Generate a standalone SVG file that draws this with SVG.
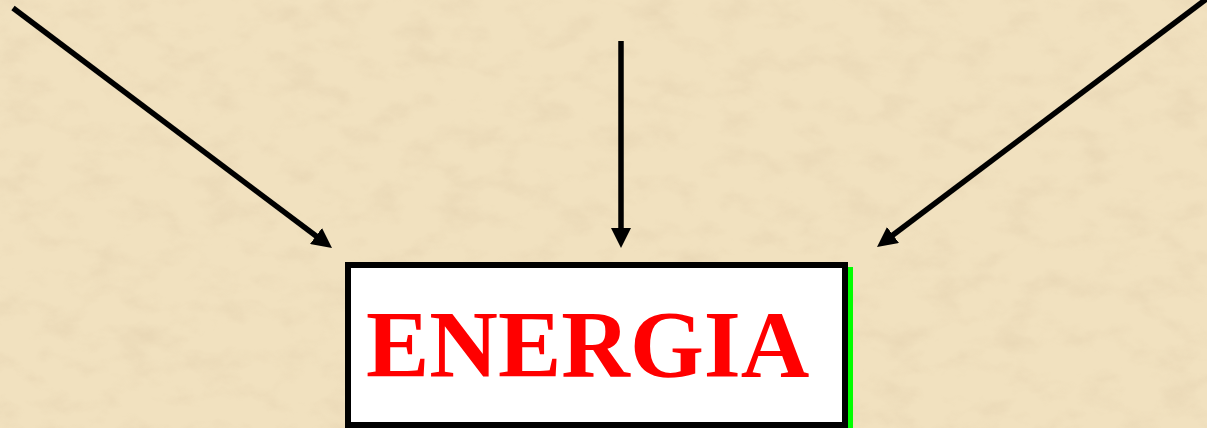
<svg xmlns="http://www.w3.org/2000/svg" width="1207" height="428" viewBox="0 0 1207 428">
  <style>
    .arrow { stroke: #000; stroke-width: 5.5; fill: none; marker-end: url(#head); }
    .label { font-family: "Liberation Serif", "Times New Roman", serif; font-weight: bold; font-size: 95px; fill: #FF0000; }
  </style>
  <defs>
    <marker id="head" markerUnits="userSpaceOnUse" markerWidth="20" markerHeight="20" viewBox="0 0 20 20" refX="8" refY="10" orient="auto">
      <path d="M0,0 L20,10 L0,20 z" fill="#000"/>
    </marker>
    <filter id="parch" x="0" y="0" width="100%" height="100%">
      <feTurbulence type="fractalNoise" baseFrequency="0.025 0.04" numOctaves="4" seed="7" result="n"/>
      <feColorMatrix in="n" type="matrix" values="0 0 0 0 0.74  0 0 0 0 0.6  0 0 0 0 0.4  1.8 0 0 0 -0.85"/>
    </filter>
  </defs>
  <g id="background">
    <rect x="0" y="0" width="1207" height="428" fill="#F1E1BF"/>
    <rect x="0" y="0" width="1207" height="428" filter="url(#parch)" opacity="0.5"/>
  </g>
  <g id="connectors">
    <line class="arrow" x1="13" y1="8" x2="322.4" y2="240.8"/>
    <line class="arrow" x1="621" y1="41" x2="621" y2="236"/>
    <line class="arrow" x1="1207" y1="-1.5" x2="886.6" y2="239.8"/>
  </g>
  <g id="energia">
    <rect x="348" y="265" width="497" height="160" fill="#FFFFFF" stroke="#000" stroke-width="6"/>
    <line x1="850.5" y1="267" x2="850.5" y2="428" stroke="#00FF00" stroke-width="5"/>
    <text class="label" x="366" y="377">ENERGIA</text>
  </g>
</svg>
